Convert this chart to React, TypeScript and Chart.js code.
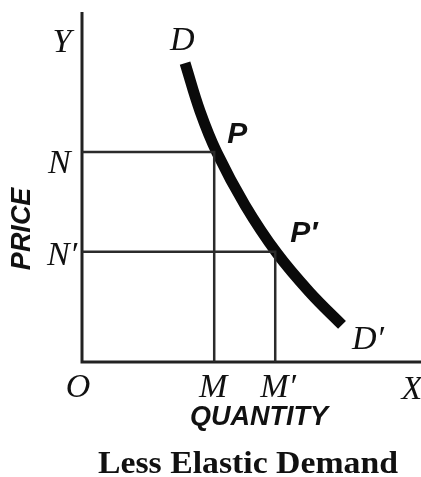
import { useEffect, useRef } from "react";
import { Chart, registerables } from "chart.js";

Chart.register(...registerables);

// Demand curve D–D′ (quantity, price) in diagram units
const demandQty = [3.04, 3.48, 3.98, 4.81, 5.75, 6.73, 7.67];
const demandPrice = [8.54, 7.17, 5.98, 4.48, 3.11, 1.98, 1.06];

// Price levels N, N′ and the quantities M, M′ demanded at them
const priceLevels = [6.0, 3.15];
const quantityLevels = [3.9, 5.7];

// Axis extents (origin O at 0,0)
const axisMax = { x: 10, y: 10 };

const chartTitle = "Less Elastic Demand";
const xAxisTitle = "QUANTITY";
const yAxisTitle = "PRICE";

const SERIF_ITALIC = "italic 34px 'Liberation Serif', serif";
const SANS_BOLD_ITALIC = "italic bold 30px 'Liberation Sans', sans-serif";

type Label = {
  text: string;
  x: number; // anchor in data units
  y: number;
  dx: number; // offset in px
  dy: number;
  font: string;
  align: CanvasTextAlign;
};

const last = demandQty.length - 1;

const pointLabels: Label[] = [
  { text: "Y", x: 0, y: axisMax.y, dx: -20, dy: 40, font: SERIF_ITALIC, align: "center" },
  { text: "D", x: demandQty[0], y: demandPrice[0], dx: -15, dy: -13, font: SERIF_ITALIC, align: "left" },
  { text: "N", x: 0, y: priceLevels[0], dx: -34, dy: 21, font: SERIF_ITALIC, align: "left" },
  { text: "N\u2032", x: 0, y: priceLevels[1], dx: -35, dy: 13, font: SERIF_ITALIC, align: "left" },
  { text: "P", x: quantityLevels[0], y: priceLevels[0], dx: 13, dy: -9, font: SANS_BOLD_ITALIC, align: "left" },
  { text: "P\u2032", x: quantityLevels[1], y: priceLevels[1], dx: 15, dy: -10, font: SANS_BOLD_ITALIC, align: "left" },
  { text: "D\u2032", x: demandQty[last], y: demandPrice[last], dx: 10, dy: 24, font: SERIF_ITALIC, align: "left" },
  { text: "O", x: 0, y: 0, dx: -4, dy: 35, font: SERIF_ITALIC, align: "center" },
  { text: "M", x: quantityLevels[0], y: 0, dx: -1, dy: 35, font: SERIF_ITALIC, align: "center" },
  { text: "M\u2032", x: quantityLevels[1], y: 0, dx: -15, dy: 35, font: SERIF_ITALIC, align: "left" },
  { text: "X", x: axisMax.x, y: 0, dx: -9, dy: 37, font: SERIF_ITALIC, align: "center" },
];

const labelPlugin = {
  id: "diagramLabels",
  afterDatasetsDraw(chart: Chart) {
    const { ctx, scales } = chart;
    const sx = scales.x;
    const sy = scales.y;
    ctx.save();
    ctx.fillStyle = "#111";
    ctx.textBaseline = "alphabetic";

    for (const l of pointLabels) {
      ctx.font = l.font;
      ctx.textAlign = l.align;
      ctx.fillText(l.text, sx.getPixelForValue(l.x) + l.dx, sy.getPixelForValue(l.y) + l.dy);
    }

    // Axis titles
    const ox = sx.getPixelForValue(0);
    const oy = sy.getPixelForValue(0);
    ctx.font = "italic bold 27px 'Liberation Sans', sans-serif";
    ctx.textAlign = "center";
    ctx.fillText(xAxisTitle, ox + 177, oy + 63);

    ctx.save();
    const midPrice = (priceLevels[0] + priceLevels[1]) / 2;
    ctx.translate(ox - 59, sy.getPixelForValue(midPrice) + 27);
    ctx.rotate(-Math.PI / 2);
    ctx.textBaseline = "middle";
    ctx.fillText(yAxisTitle, 0, 0);
    ctx.restore();

    // Caption under the diagram, stretched to its printed width
    ctx.font = "bold 31px 'Liberation Serif', serif";
    ctx.textAlign = "center";
    const w = ctx.measureText(chartTitle).width;
    ctx.save();
    ctx.translate(248, oy + 111);
    ctx.scale(300 / w, 1);
    ctx.fillText(chartTitle, 0, 0);
    ctx.restore();

    ctx.restore();
  },
};

export default function App() {
  const canvasRef = useRef<HTMLCanvasElement | null>(null);

  useEffect(() => {
    const canvas = canvasRef.current;
    if (!canvas) return;

    const curve = demandQty.map((q, i) => ({ x: q, y: demandPrice[i] }));
    const axes = [
      { x: 0, y: axisMax.y },
      { x: 0, y: 0 },
      { x: axisMax.x, y: 0 },
    ];
    const guide = (i: number) => [
      { x: 0, y: priceLevels[i] },
      { x: quantityLevels[i], y: priceLevels[i] },
      { x: quantityLevels[i], y: 0 },
    ];

    const lineDefaults = {
      showLine: true,
      pointRadius: 0,
      pointHoverRadius: 0,
      fill: false,
      clip: false as const,
    };

    const chart = new Chart(canvas, {
      type: "scatter",
      data: {
        datasets: [
          { ...lineDefaults, data: guide(0), borderColor: "#2b2b2b", borderWidth: 2.5 },
          { ...lineDefaults, data: guide(1), borderColor: "#2b2b2b", borderWidth: 2.5 },
          { ...lineDefaults, data: axes, borderColor: "#222", borderWidth: 3 },
          {
            ...lineDefaults,
            data: curve,
            borderColor: "#0a0a0a",
            borderWidth: 11,
            borderCapStyle: "butt",
            tension: 0.4,
          },
        ],
      },
      options: {
        responsive: false,
        animation: false,
        events: [],
        layout: { padding: { left: 82, top: 12, right: 0, bottom: 115 } },
        plugins: {
          legend: { display: false },
          tooltip: { enabled: false },
          title: { display: false },
        },
        scales: {
          x: { type: "linear", min: 0, max: axisMax.x, display: false },
          y: { type: "linear", min: 0, max: axisMax.y, display: false },
        },
      },
      plugins: [labelPlugin],
    });

    return () => chart.destroy();
  }, []);

  return (
    <div style={{ position: "absolute", left: 0, top: 0, width: 421, height: 477, background: "#fff" }}>
      <canvas ref={canvasRef} width={421} height={477} style={{ display: "block" }} />
    </div>
  );
}
